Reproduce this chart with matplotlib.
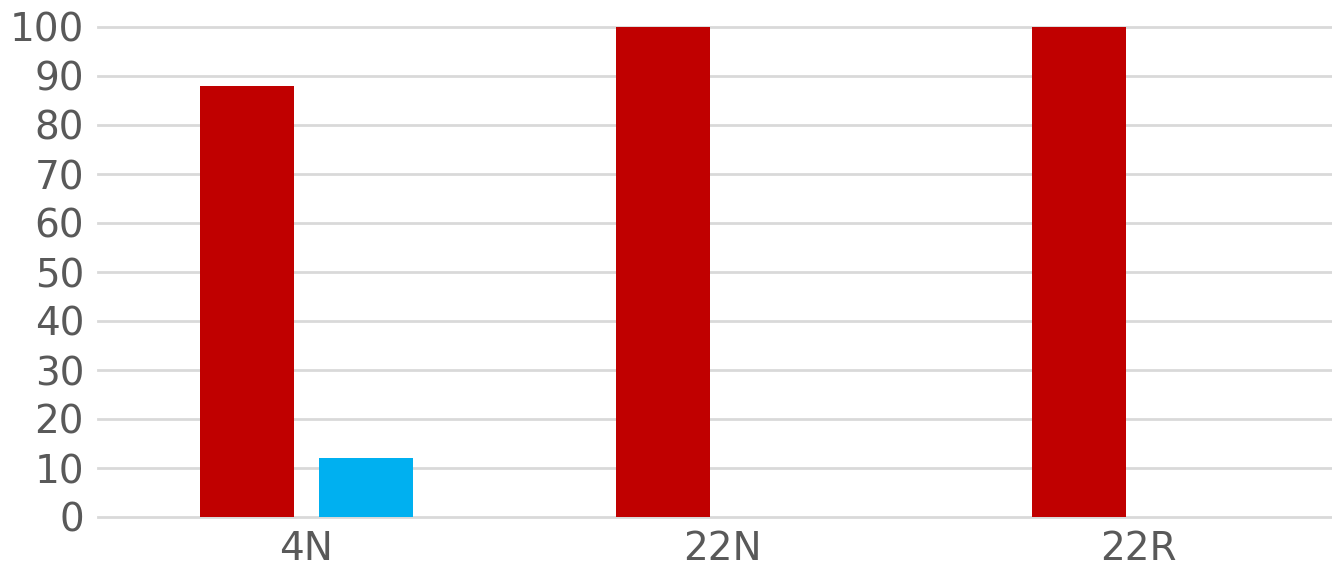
import numpy as np
import matplotlib.pyplot as plt

categories = ["4N", "22N", "22R"]
series_a = [88, 100, 100]
series_b = [12, 0, 0]
yticks = list(range(0, 101, 10))

fig = plt.figure(figsize=(13.32, 5.65), dpi=100)
# axes spans beyond the right edge, as in the reference
ax = fig.add_axes([98 / 1332, 48 / 565, 1249 / 1332, 490 / 565])

x = np.arange(len(categories))
width = 0.226
offset = 0.143
ax.bar(x - offset, series_a, width, color="#C00000", zorder=3)
ax.bar(x + offset, series_b, width, color="#00B0F0", zorder=3)

ax.set_xlim(-0.5, 2.5)
ax.set_ylim(0, 100)
ax.set_yticks(yticks)
ax.set_xticks(x)
ax.set_xticklabels(categories)
ax.yaxis.grid(True, color="#d9d9d9", linewidth=2, zorder=0)
for gl in ax.get_ygridlines():
    gl.set_clip_on(False)
ax.set_axisbelow(True)
for s in ax.spines.values():
    s.set_visible(False)
ax.tick_params(axis="both", length=0, labelsize=28, labelcolor="#595959")
ax.tick_params(axis="y", pad=10)
ax.tick_params(axis="x", pad=9)

fig.savefig("out.png", dpi=100)
